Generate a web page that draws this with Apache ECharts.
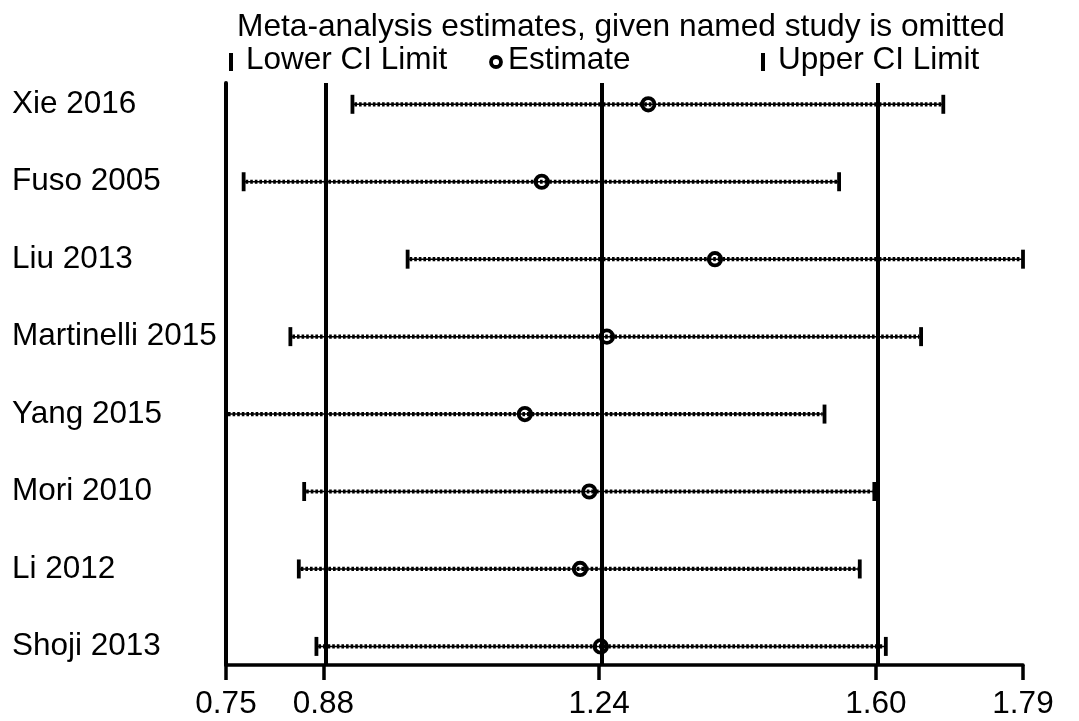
<!DOCTYPE html>
<html>
<head>
<meta charset="utf-8">
<script src="https://cdn.jsdelivr.net/npm/echarts@6/dist/echarts.min.js"></script>
<style>
html,body{margin:0;padding:0;background:#fff;}
#chart{width:1079px;height:721px;}
</style>
</head>
<body>
<div id="chart"></div>
<script>
// ---- data ----
var titleText = 'Meta-analysis estimates, given named study is omitted';
var studies = ['Xie 2016','Fuso 2005','Liu 2013','Martinelli 2015','Yang 2015','Mori 2010','Li 2012','Shoji 2013'];
var lowerCI  = [0.915, 0.773, 0.987, 0.834, 0.750, 0.852, 0.845, 0.868];
var estimate = [1.301, 1.162, 1.388, 1.247, 1.140, 1.224, 1.212, 1.239];
var upperCI  = [1.686, 1.550, 1.790, 1.657, 1.531, 1.596, 1.577, 1.611];
var refLines = [0.877, 1.237, 1.598];           // overall lower CI, estimate, upper CI
var xTicks   = [0.75, 0.877, 1.237, 1.598, 1.79];
var legendNames = ['Lower CI Limit', 'Estimate', 'Upper CI Limit'];

var FONT = '"Liberation Sans", Arial, Helvetica, sans-serif';
var FS = 31.5;
var FS_T = 31.7;

var rows = studies.map(function (s, i) { return [i, lowerCI[i], estimate[i], upperCI[i]]; });

function renderCI(params, api) {
  var i = api.value(0);
  var pL = api.coord([api.value(1), i]);
  var pE = api.coord([api.value(2), i]);
  var pU = api.coord([api.value(3), i]);
  var y = pL[1];
  var capH = 19;
  return {
    type: 'group',
    children: [
      { type: 'line', shape: { x1: pL[0], y1: y, x2: pU[0], y2: y },
        style: { stroke: '#000', lineWidth: 1.5 } },
      { type: 'line', shape: { x1: pL[0] + 2, y1: y, x2: pU[0] - 2, y2: y },
        style: { stroke: '#000', lineWidth: 4.2, lineDash: [2.6, 2] } },
      { type: 'line', shape: { x1: pL[0], y1: y - capH / 2, x2: pL[0], y2: y + capH / 2 },
        style: { stroke: '#000', lineWidth: 3.8 } },
      { type: 'line', shape: { x1: pU[0], y1: y - capH / 2, x2: pU[0], y2: y + capH / 2 },
        style: { stroke: '#000', lineWidth: 3.8 } },
      { type: 'circle', shape: { cx: pE[0], cy: y, r: 6.2 },
        style: { stroke: '#000', lineWidth: 3.8, fill: 'none' } }
    ]
  };
}

var chart = echarts.init(document.getElementById('chart'), null, { renderer: 'canvas' });
chart.setOption({
  animation: false,
  backgroundColor: '#fff',
  textStyle: { fontFamily: FONT },
  title: {
    text: titleText,
    left: 232, top: 6,
    textStyle: { fontFamily: FONT, fontSize: FS_T, fontWeight: 'normal', color: '#000' }
  },
  grid: { left: 226, right: 56, top: 83, bottom: 56, containLabel: false },
  xAxis: {
    type: 'value', min: 0.75, max: 1.79,
    axisLine: { show: true, onZero: false, lineStyle: { color: '#000', width: 3.5 } },
    axisTick: { show: true, customValues: xTicks, length: 15, lineStyle: { color: '#000', width: 3.5 } },
    axisLabel: { show: true, customValues: xTicks, margin: 23, color: '#000', fontSize: FS, fontFamily: FONT,
      formatter: function (v) { return v.toFixed(2); } },
    splitLine: { show: false }
  },
  yAxis: {
    type: 'value', inverse: true, min: -0.275, max: 7.24,
    axisLine: { show: true, onZero: false, lineStyle: { color: '#000', width: 4 } },
    axisTick: { show: false },
    axisLabel: { show: true, customValues: [0,1,2,3,4,5,6,7], align: 'left', margin: 214,
      color: '#000', fontSize: FS, fontFamily: FONT,
      formatter: function (v) { return studies[Math.round(v)]; } },
    splitLine: { show: false }
  },
  series: [
    {
      type: 'line', data: [], silent: true,
      markLine: {
        silent: true, symbol: 'none', label: { show: false },
        lineStyle: { color: '#000', width: 4, type: 'solid' },
        data: refLines.map(function (v) { return { xAxis: v }; })
      }
    },
    {
      type: 'custom', name: 'CI', clip: false,
      renderItem: renderCI,
      encode: { x: [1, 2, 3], y: 0 },
      data: rows
    }
  ],
  graphic: [
    { type: 'rect', left: 229, top: 53, shape: { width: 4, height: 18 }, style: { fill: '#000' } },
    { type: 'text', left: 246, top: 44, style: { text: legendNames[0], font: FS + 'px ' + FONT, fill: '#000' } },
    { type: 'circle', shape: { cx: 496, cy: 62, r: 5 }, style: { stroke: '#000', lineWidth: 3.8, fill: 'none' } },
    { type: 'text', left: 508, top: 44, style: { text: legendNames[1], font: FS + 'px ' + FONT, fill: '#000' } },
    { type: 'rect', left: 761, top: 53, shape: { width: 4, height: 18 }, style: { fill: '#000' } },
    { type: 'text', left: 778, top: 44, style: { text: legendNames[2], font: FS + 'px ' + FONT, fill: '#000' } }
  ]
});
</script>
</body>
</html>
